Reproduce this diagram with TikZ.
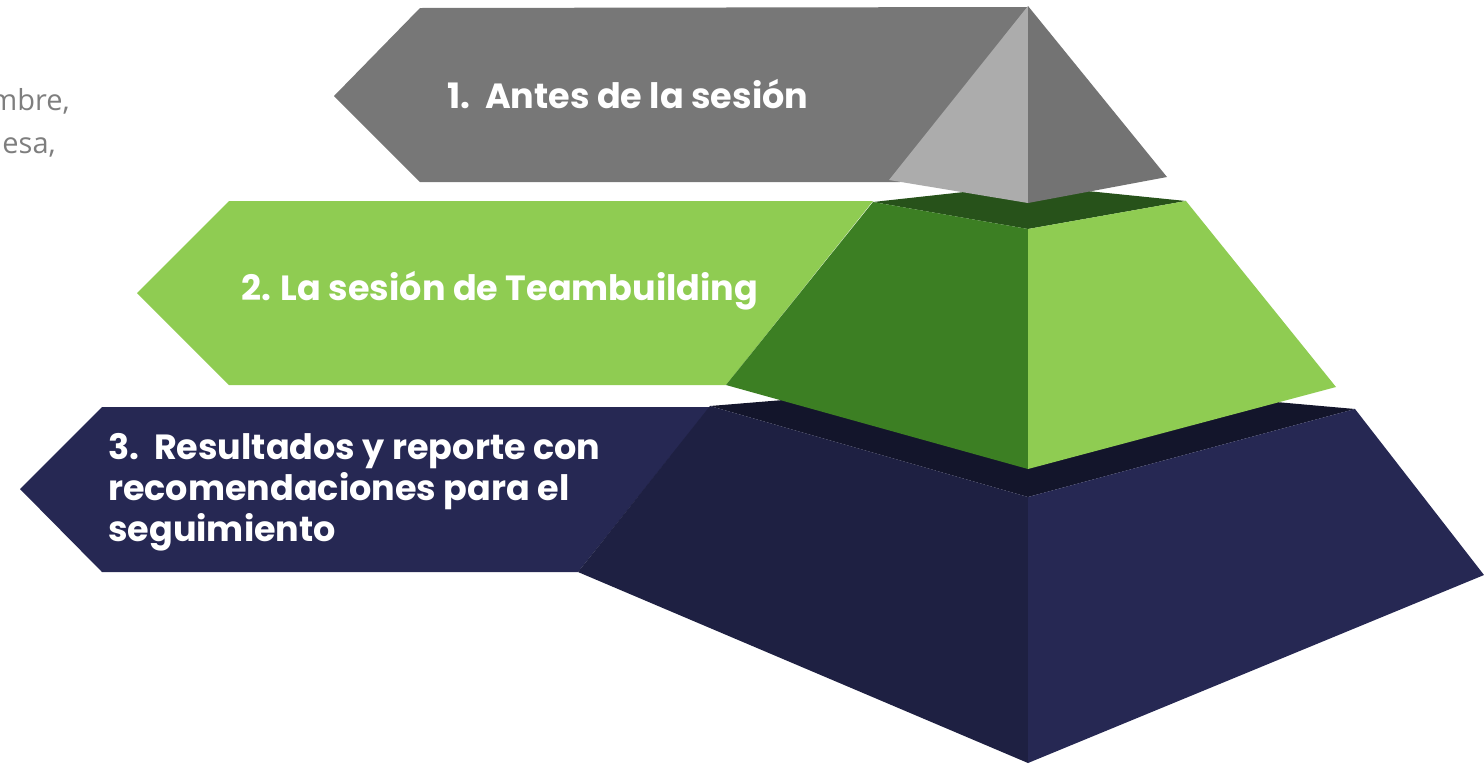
\documentclass[tikz,border=0pt]{standalone}
\usepackage{fontspec}
\setmainfont{Poppins}
\newfontfamily\sidefont{Open Sans}
\definecolor{grayban}{HTML}{777777}
\definecolor{grayright}{HTML}{737373}
\definecolor{graylight}{HTML}{ACACAC}
\definecolor{greenban}{HTML}{8FCC52}
\definecolor{greenleft}{HTML}{3C7F23}
\definecolor{greentop}{HTML}{27521A}
\definecolor{navyban}{HTML}{262853}
\definecolor{navyleft}{HTML}{1E2042}
\definecolor{navytop}{HTML}{13152B}
\definecolor{sidegray}{HTML}{7E7E7E}
\tikzset{
  label text/.style={text=white, font=\fontsize{35}{41}\selectfont\bfseries, inner sep=0pt, anchor=base west},
  side text/.style={text=sidegray, font=\sidefont\fontsize{29}{34}\selectfont, inner sep=0pt, anchor=base east}
}
\begin{document}
\begin{tikzpicture}[x=1pt,y=-1pt]
\useasboundingbox (0,0) rectangle (1484,764);
\clip (0,0) rectangle (1484,764);
% side text (clipped)
\node[side text] (s1) at (70,110) {mbre,};
\node[side text] (s2) at (56,153) {esa,};
% ---- bottom layer (navy)
\fill[navyban] (20,489) -- (102,407) -- (710,407) -- (578,572) -- (102,572) -- cycle;
\fill[navytop] (710,406) -- (1028,380) -- (1355,409) -- (1028,497) -- cycle;
\fill[navyleft] (710,406) -- (1028,497) -- (1028,763) -- (578,572) -- cycle;
\fill[navyban] (1028,497) -- (1355,409) -- (1484,575) -- (1028,763) -- cycle;
% ---- middle layer (green)
\fill[greenban] (137,293) -- (229,201) -- (873,201) -- (726,385) -- (229,385) -- cycle;
\fill[greentop] (873,202) -- (1028,185) -- (1186,201) -- (1028,229) -- cycle;
\fill[greenleft] (873,202) -- (1028,229) -- (1028,469) -- (726,385) -- cycle;
\fill[greenban] (1028,229) -- (1186,201) -- (1336,387) -- (1028,469) -- cycle;
% ---- top layer (gray)
\fill[grayban] (334,96) -- (420,8) -- (1028,7) -- (900,182) -- (420,182) -- cycle;
\fill[graylight] (1028,6) -- (889,180) -- (1028,203) -- cycle;
\fill[grayright] (1028,6) -- (1028,203) -- (1167,177) -- cycle;
% labels
\node[label text] (t1) at (447,108) {1.\ \ Antes de la sesión};
\node[label text] (t2) at (241,300) {2. La sesión de Teambuilding};
\node[label text] (t3a) at (108,459) {3.\ \ Resultados y reporte con};
\node[label text] (t3b) at (108,500) {recomendaciones para el};
\node[label text] (t3c) at (108,541) {seguimiento};
\end{tikzpicture}
\end{document}
